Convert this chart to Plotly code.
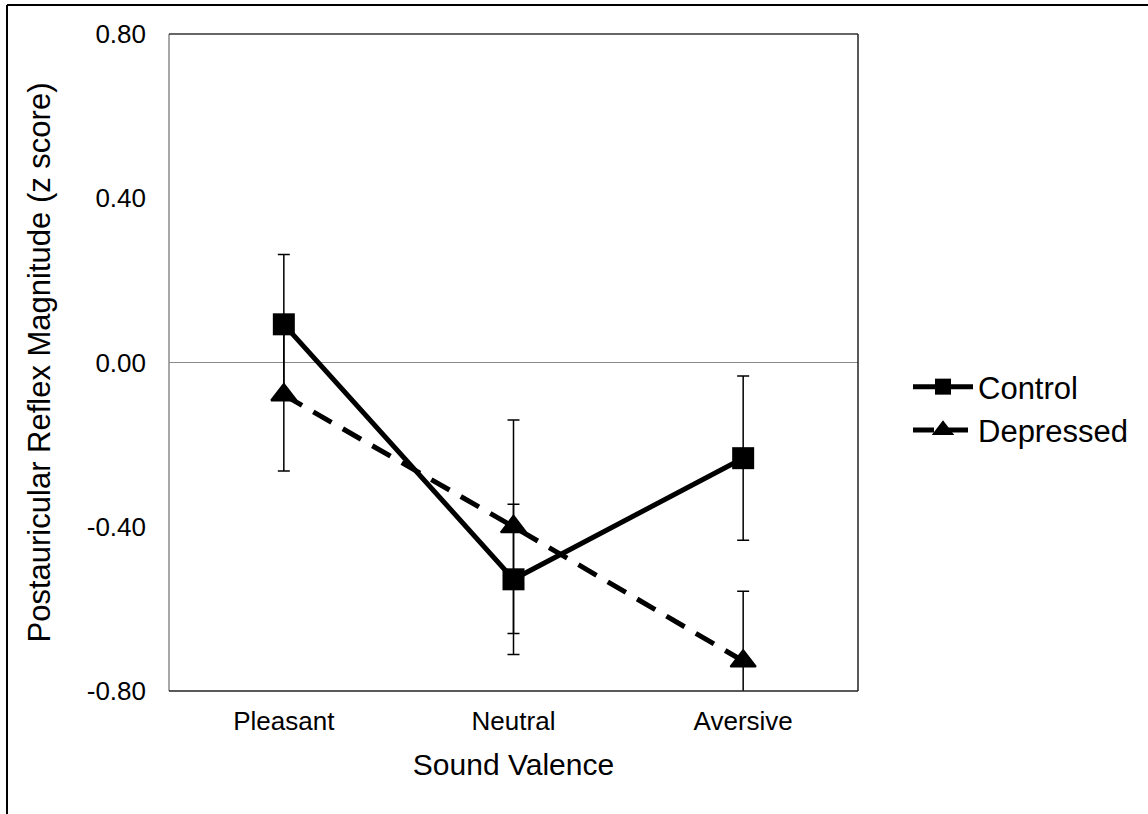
import plotly.graph_objects as go

# ---- data ----
categories = ["Pleasant", "Neutral", "Aversive"]
control = [0.093, -0.528, -0.233]
control_err = [0.170, 0.183, 0.200]
depressed = [-0.079, -0.400, -0.727]
depressed_err = [0.185, 0.260, 0.170]
y_tickvals = [-0.8, -0.4, 0.0, 0.4, 0.8]
y_ticktext = ["-0.80", "-0.40", "0.00", "0.40", "0.80"]

W, H = 1148, 814
ML, MR, MT, MB = 169, 290, 34, 123
PW = W - ML - MR
PH = H - MT - MB


def px_x(px):
    return (px - ML) / PW


def px_y(py):
    return (H - MB - py) / PH


FONT = "Liberation Sans, Arial, sans-serif"

fig = go.Figure()
fig.add_trace(go.Scatter(
    x=categories, y=control, name="Control", mode="lines+markers",
    line=dict(color="black", width=5),
    marker=dict(symbol="square", size=22, color="black"),
    error_y=dict(type="data", array=control_err, visible=True,
                 color="black", thickness=1.5, width=6),
))
fig.add_trace(go.Scatter(
    x=categories, y=depressed, name="Depressed", mode="lines+markers",
    line=dict(color="black", width=5, dash="21px,13px"),
    marker=dict(symbol="triangle-up", size=22, color="black",
                line=dict(color="black", width=2)),
    error_y=dict(type="data", array=depressed_err, visible=True,
                 color="black", thickness=1.5, width=6),
))

shapes = [
    # plot frame
    dict(type="line", xref="x domain", yref="y domain", x0=0, x1=0, y0=0, y1=1,
         line=dict(color="#8a8a8a", width=1.5)),
    dict(type="line", xref="x domain", yref="y domain", x0=0, x1=1, y0=1, y1=1,
         line=dict(color="#333333", width=1.5)),
    dict(type="line", xref="x domain", yref="y domain", x0=1, x1=1, y0=0, y1=1,
         line=dict(color="#222222", width=1.5)),
    dict(type="line", xref="x domain", yref="y domain", x0=0, x1=1, y0=0, y1=0,
         line=dict(color="#222222", width=1.5)),
    # outer chart border (left and top)
    dict(type="line", xref="paper", yref="paper", x0=px_x(7), x1=px_x(7),
         y0=px_y(5), y1=px_y(H + 5), line=dict(color="black", width=2)),
    dict(type="line", xref="paper", yref="paper", x0=px_x(7), x1=px_x(W + 5),
         y0=px_y(5), y1=px_y(5), line=dict(color="black", width=2)),
]

fig.update_layout(
    width=W, height=H,
    margin=dict(l=ML, r=MR, t=MT, b=MB, pad=0),
    paper_bgcolor="white", plot_bgcolor="white",
    font=dict(family=FONT, color="black", size=26),
    showlegend=True,
    legend=dict(x=px_x(908), y=px_y(360), xanchor="left", yanchor="top",
                font=dict(size=31, family=FONT), bgcolor="rgba(0,0,0,0)",
                borderwidth=0, itemwidth=60, tracegroupgap=0),
    shapes=shapes,
    xaxis=dict(type="category", categoryorder="array", categoryarray=categories,
               range=[-0.5, 2.5], showgrid=False, zeroline=False, showline=False,
               ticks="", tickfont=dict(size=26, family=FONT), ticklabelstandoff=12,
               title=dict(text="Sound Valence", font=dict(size=30, family=FONT),
                          standoff=18)),
    yaxis=dict(range=[-0.8, 0.8], tickvals=y_tickvals, ticktext=y_ticktext,
               showgrid=False, zeroline=True, zerolinecolor="#8a8a8a",
               zerolinewidth=1.2, showline=False, ticks="",
               tickfont=dict(size=26, family=FONT), ticklabelstandoff=22,
               title=dict(text="Postauricular Reflex Magnitude (z score)",
                          font=dict(size=31, family=FONT), standoff=26)),
)

fig.write_html("out.html")
